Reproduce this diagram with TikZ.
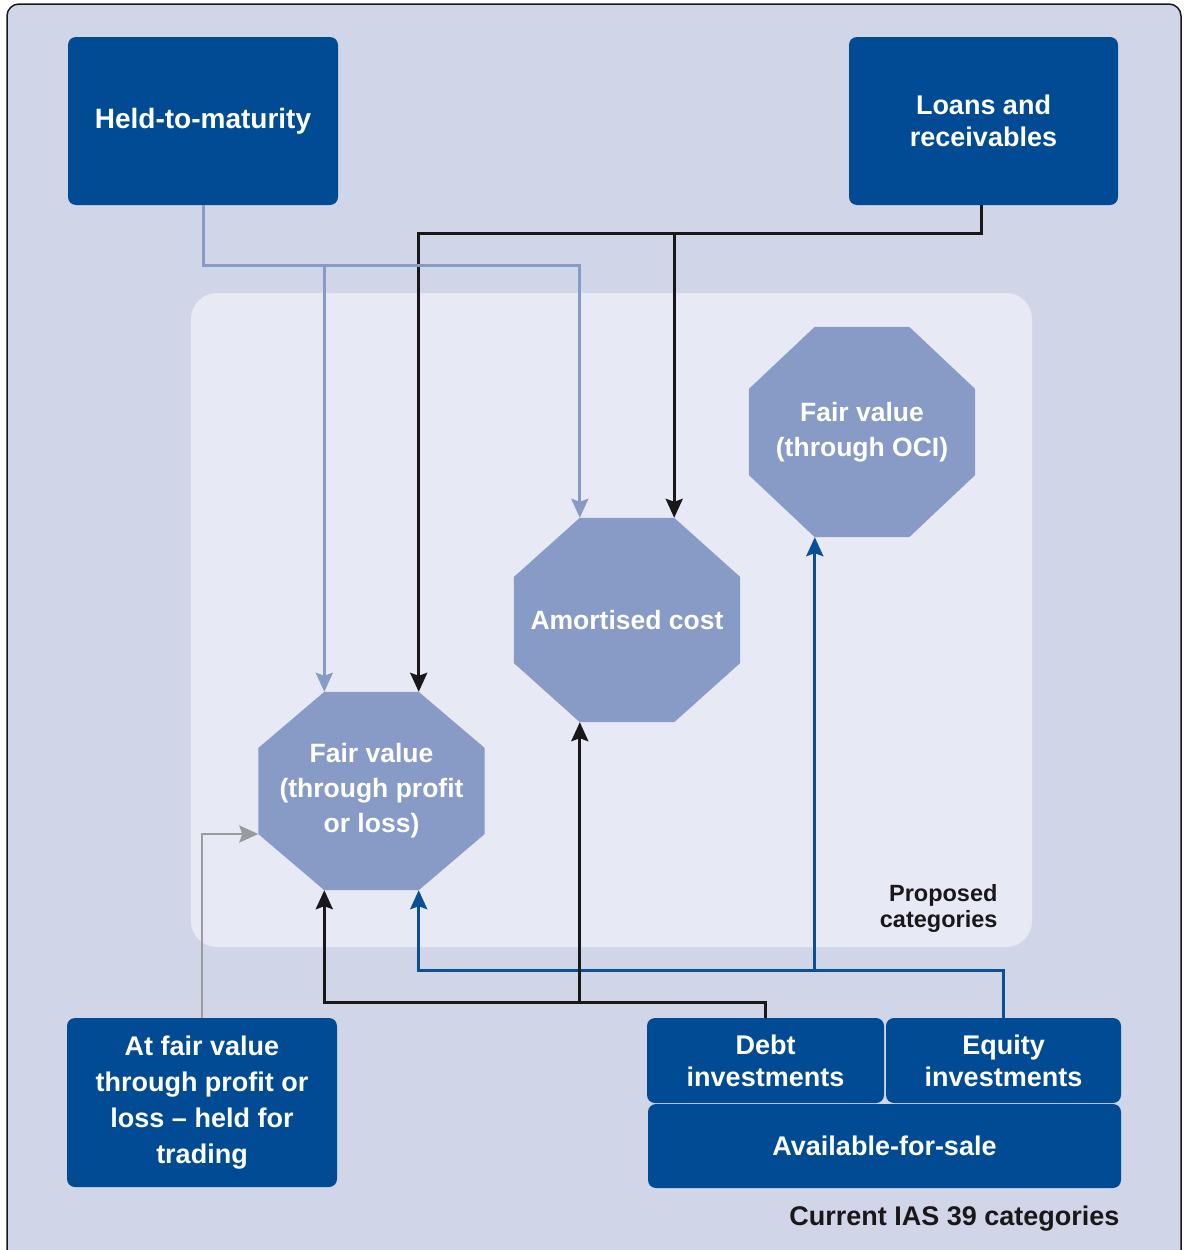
\documentclass[tikz,border=0pt]{standalone}
\usepackage{fontspec}
\setmainfont{Liberation Sans}
\usetikzlibrary{arrows.meta,calc}

\definecolor{outerbg}{HTML}{D0D6E8}
\definecolor{panelbg}{HTML}{E7EAF4}
\definecolor{boxblue}{HTML}{004B93}
\definecolor{octblue}{HTML}{879BC6}
\definecolor{lineblk}{HTML}{1A171B}
\definecolor{linedark}{HTML}{0B4F94}
\definecolor{linegray}{HTML}{9A9B9E}

\pgfdeclarelayer{back}
\pgfdeclarelayer{shapes}
\pgfsetlayers{back,shapes,main}

\tikzset{
  catbox/.style={rectangle, rounded corners=8pt, fill=boxblue, text=white,
    font=\bfseries\fontsize{27}{32}\selectfont, align=center, inner sep=0pt},
  octnode/.style={rectangle, inner sep=0pt, minimum width=226pt, text=white,
    font=\bfseries\fontsize{26.5}{35}\selectfont, align=center},
  link/.style={line width=3pt, line join=miter},
  conn/.style={link, -{Stealth[length=19pt,width=17pt,inset=3pt]}},
  lightln/.style={color=octblue},
  blackln/.style={color=lineblk},
  darkln/.style={color=linedark},
  grayln/.style={color=linegray, line width=2.7pt},
  caption/.style={text=lineblk, font=\bfseries\fontsize{27}{30}\selectfont}
}

% fill the octagon behind a named node
\newcommand\octfill[1]{%
  \fill[octblue] ($(#1.north west)+(66,0)$) -- ($(#1.north east)+(-66,0)$)
    -- ($(#1.east)+(0,-43)$) -- ($(#1.east)+(0,43)$)
    -- ($(#1.south east)+(-66,0)$) -- ($(#1.south west)+(66,0)$)
    -- ($(#1.west)+(0,43)$) -- ($(#1.west)+(0,-43)$) -- cycle;}

\begin{document}
\begin{tikzpicture}[x=1pt,y=-1pt]
\useasboundingbox (0,0) rectangle (1184,1250);

\begin{pgfonlayer}{back}
  \draw[fill=outerbg, draw=lineblk, line width=1.5pt, rounded corners=12pt]
    (7,4) rectangle (1181,1275);
  \fill[panelbg, rounded corners=26pt] (191,293) rectangle (1032,947);
\end{pgfonlayer}

% current categories
\node[catbox, minimum width=270pt, minimum height=168pt, font=\bfseries\fontsize{28}{32}\selectfont]
  (htm) at (203,121) {Held-to-maturity};
\node[catbox, minimum width=269pt, minimum height=168pt] (loans) at (983.5,121) {Loans and\\receivables};
\node[catbox, minimum width=270pt, minimum height=169pt, font=\bfseries\fontsize{27}{36}\selectfont]
  (afv) at (202,1102.5) {At fair value\\through profit or\\loss -- held for\\trading};
\node[catbox, minimum width=237pt, minimum height=85pt] (debt) at (765.5,1060.5) {Debt\\investments};
\node[catbox, minimum width=235pt, minimum height=85pt] (eq) at (1003.5,1060.5) {Equity\\investments};
\node[catbox, minimum width=473pt, minimum height=84pt] (afs) at (884.5,1146) {Available-for-sale};

% proposed categories
\node[octnode, minimum height=198pt] (fvpl) at (371.5,791) {Fair value\\(through profit\\or loss)};
\node[octnode, minimum height=204pt] (ac) at (627,620) {Amortised cost};
\node[octnode, minimum height=210pt] (oci) at (862,432) {Fair value\\(through OCI)};

\begin{pgfonlayer}{shapes}
  \octfill{fvpl}
  \octfill{ac}
  \octfill{oci}
\end{pgfonlayer}

\node[caption, align=right, anchor=east, font=\bfseries\fontsize{23.5}{26}\selectfont]
  (prop) at (1001,908) {Proposed\\categories};
\node[caption, anchor=east] (cur) at (1123,1219) {Current IAS 39 categories};

% octagon corners used as arrow targets
\coordinate (fvpl-tl) at ($(fvpl.north west)+(66,0)$);
\coordinate (fvpl-tr) at ($(fvpl.north east)+(-66,0)$);
\coordinate (fvpl-bl) at ($(fvpl.south west)+(66,0)$);
\coordinate (fvpl-br) at ($(fvpl.south east)+(-66,0)$);
\coordinate (fvpl-lb) at ($(fvpl.west)+(0,43)$);
\coordinate (ac-tl) at ($(ac.north west)+(66,0)$);
\coordinate (ac-tr) at ($(ac.north east)+(-66,0)$);
\coordinate (ac-bl) at ($(ac.south west)+(66,0)$);
\coordinate (oci-bl) at ($(oci.south west)+(66,0)$);

% levels of the horizontal runs
\coordinate (hy) at (0,265);
\coordinate (ly) at (0,233);
\coordinate (dy) at (0,1002);
\coordinate (ey) at (0,970);

% connectors
\draw[conn, blackln] ([xshift=-2.5pt]loans.south) -- ([xshift=-2.5pt]loans.south |- ly) -| (fvpl-tr);
\draw[conn, blackln] (ac-tr |- ly) -- (ac-tr);
\draw[conn, lightln] (htm.south) -- (htm.south |- hy) -| (ac-tl);
\draw[conn, lightln] (fvpl-tl |- hy) -- (fvpl-tl);

\draw[conn, darkln] (eq.north) -- (eq.north |- ey) -| (fvpl-br);
\draw[conn, darkln] (oci-bl |- ey) -- (oci-bl);
\draw[conn, blackln] (debt.north) -- (debt.north |- dy) -| (fvpl-bl);
\draw[conn, blackln] (ac-bl |- dy) -- (ac-bl);
\draw[conn, grayln] (afv.north) |- (fvpl-lb);
\end{tikzpicture}
\end{document}
